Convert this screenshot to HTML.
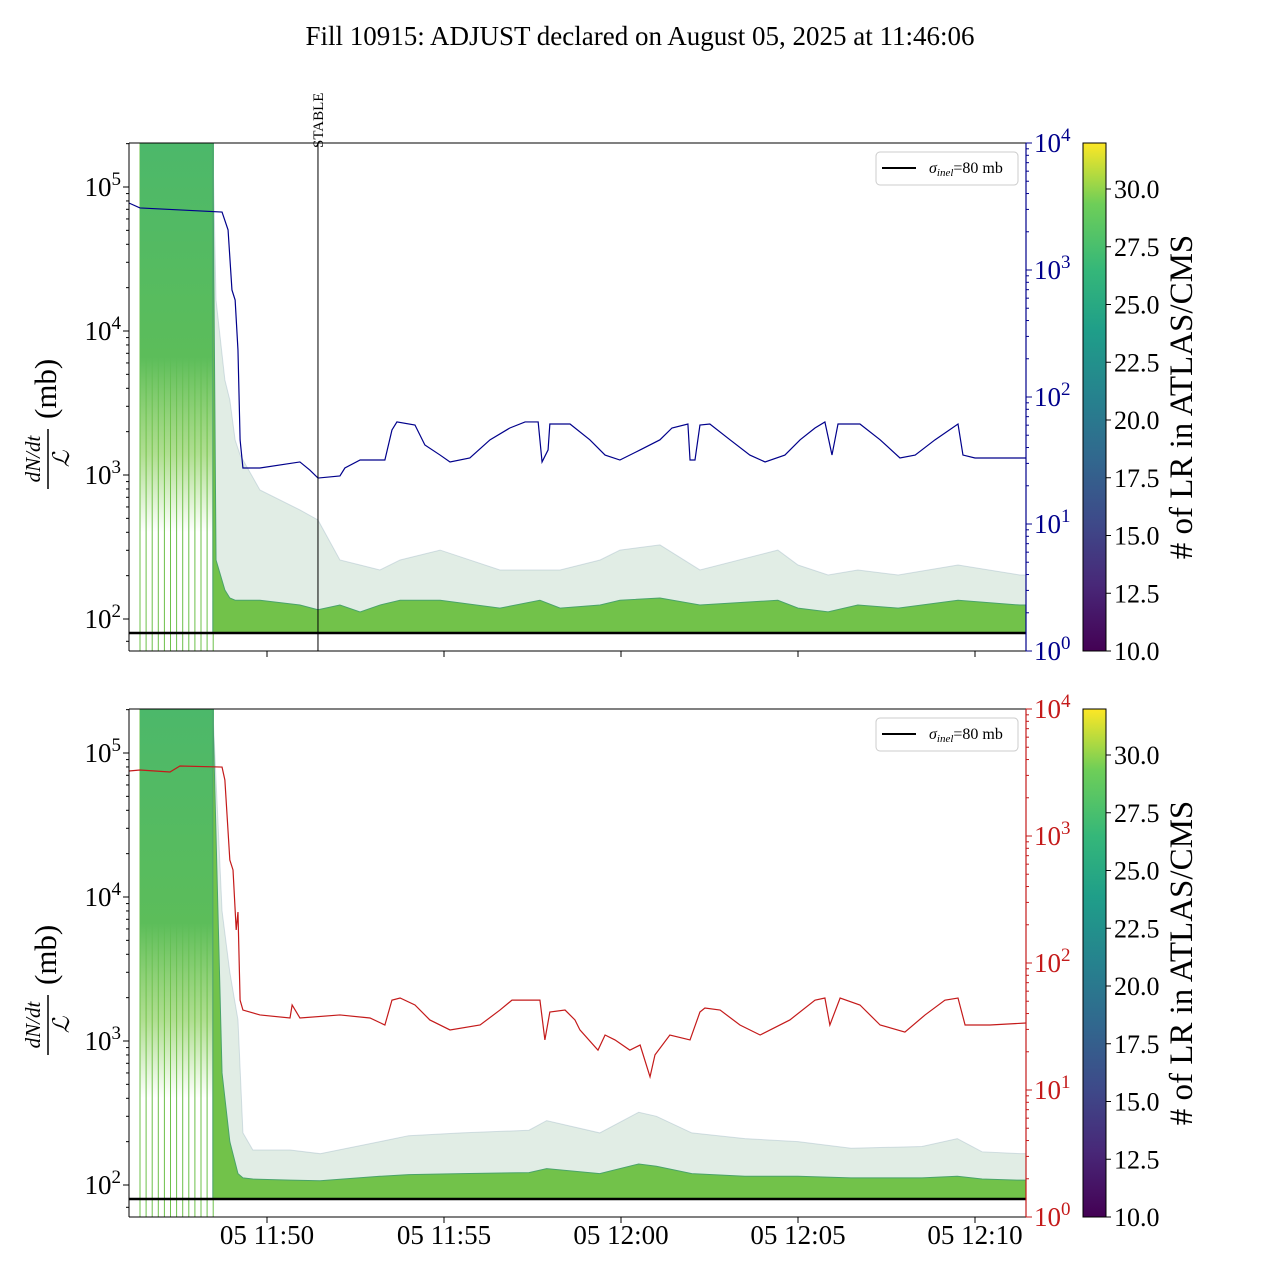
<!DOCTYPE html>
<html><head><meta charset="utf-8">
<style>
html,body{margin:0;padding:0;background:#fff;}
svg{display:block;font-family:"Liberation Serif","DejaVu Serif",serif;}
</style></head>
<body>
<svg id="chart" width="1280" height="1280" viewBox="0 0 1280 1280">
<defs>
<linearGradient id="viridis" x1="0" y1="1" x2="0" y2="0">
<stop offset="0" stop-color="#440154"/><stop offset="0.13" stop-color="#482878"/>
<stop offset="0.25" stop-color="#3e4989"/><stop offset="0.38" stop-color="#31688e"/>
<stop offset="0.5" stop-color="#26828e"/><stop offset="0.63" stop-color="#1f9e89"/>
<stop offset="0.75" stop-color="#35b779"/><stop offset="0.88" stop-color="#6ece58"/>
<stop offset="1" stop-color="#fde725"/>
</linearGradient>
<linearGradient id="greenFade" x1="0" y1="0" x2="0" y2="1">
<stop offset="0" stop-color="#4cb86a"/><stop offset="0.55" stop-color="#5cbd5a"/>
<stop offset="0.8" stop-color="#7cc84a" stop-opacity="0.6"/><stop offset="1" stop-color="#7cc84a" stop-opacity="0"/>
</linearGradient>
</defs>
<text x="640" y="45" font-size="27" text-anchor="middle">Fill 10915: ADJUST declared on August 05, 2025 at 11:46:06</text>
</svg>
<script>
// time in minutes relative to 11:50
const xTickLabels = ["05 11:50","05 11:55","05 12:00","05 12:05","05 12:10"];
const xTickMinutes = [0,5,10,15,20];
const leftTickExps = [2,3,4,5];
const rightTickExps = [0,1,2,3,4];
const cbTicks = [10.0,12.5,15.0,17.5,20.0,22.5,25.0,27.5,30.0];
const sigmaInel = 80;
const stableMinute = 1.44;

const blueT = [-3.9,-3.59,-2.46,-1.27,-1.10,-0.99,-0.90,-0.82,-0.76,-0.68,-0.2,0.93,1.21,1.44,2.06,2.2,2.63,3.33,3.53,3.67,4.18,4.46,4.89,5.17,5.73,6.3,6.86,7.29,7.66,7.77,7.94,7.99,8.56,9.12,9.55,9.97,10.54,11.1,11.44,11.89,11.95,12.09,12.23,12.51,13.08,13.64,14.07,14.63,15.06,15.48,15.76,15.96,16.13,16.75,17.32,17.88,18.31,18.87,19.52,19.66,20,21.44];
const blueV = [3370,3080,2970,2860,2070,696,580,234,46,27.6,27.6,30.8,26.6,23,23.9,27.6,31.9,31.9,55,63.6,60.2,41.9,34.9,30.8,33.1,46,57,63.6,63.6,30.8,38.3,61.3,61.3,46,34.9,31.9,38.3,46,57,61.3,31.9,31.9,60.2,61.3,46,34.9,30.8,34.9,46,57,63.6,34.9,61.3,61.3,46,33.1,34.9,46,61.3,34.9,33.1,33.1];

const redT = [-3.9,-3.59,-2.74,-2.46,-1.27,-1.19,-1.05,-0.96,-0.87,-0.82,-0.76,-0.68,-0.2,0.65,0.71,0.93,2.06,2.91,3.33,3.53,3.76,4.18,4.6,5.17,6.02,6.58,6.92,7.71,7.85,7.99,8.42,8.7,8.84,9.35,9.55,9.83,10.25,10.54,10.82,10.96,11.38,11.95,12.23,12.37,12.8,13.36,13.93,14.77,15.48,15.76,15.9,16.19,16.75,17.32,18.02,18.59,19.15,19.52,19.72,20.42,21.44];
const redV = [3250,3310,3190,3560,3490,2760,647,540,182,252,51,42.6,39,36.9,46.7,36.9,39,36.9,32.5,51,53,46.7,35.6,29.7,32.5,42.6,51,51,24.8,41.1,42.6,35.6,29.7,20.6,27.1,24.8,20.6,22.6,12.7,18.9,27.1,24.8,41.1,44.2,42.6,32.5,27.1,35.6,51,53,32.5,53,46.7,32.5,28.6,39,51,53,32.5,32.5,33.7];

const bundleT1 = [-1.53,-1.44,-1.19,-1.05,-0.90,-0.76,-0.20,0.93,1.44,2.06,2.63,3.19,3.76,4.89,6.58,7.71,8.28,9.41,9.97,11.1,12.23,14.43,15.0,15.85,16.69,17.83,19.52,21.27];
const bundleHi1 = [200000,16400,4570,3320,1750,1380,787,572,487,257,237,219,257,301,219,219,219,257,301,327,219,301,237,202,219,202,237,202];
const bundleMid1 = [200000,257,159,140,135,135,135,125,116,125,112,125,135,135,119,135,119,125,135,140,125,135,119,112,125,119,135,125];

const bundleT2 = [-1.53,-1.27,-1.05,-0.82,-0.68,-0.4,0.65,1.5,3.19,4.0,5.5,7.4,7.9,9.4,10.5,11.0,12.0,13.5,15.0,16.5,18.5,19.5,20.2,21.27];
const bundleHi2 = [200000,8000,3000,1400,230,175,175,165,200,220,230,240,280,230,320,300,230,210,200,180,185,210,170,165];
const bundleMid2 = [200000,600,200,120,112,110,108,107,115,118,120,122,130,120,140,135,120,115,115,112,112,115,110,108];

const NS="http://www.w3.org/2000/svg";
const svg=document.getElementById('chart');
function el(tag,attrs,parent,text){const e=document.createElementNS(NS,tag);for(const k in attrs)e.setAttribute(k,attrs[k]);if(text!==undefined)e.textContent=text;(parent||svg).appendChild(e);return e;}

const X0=129,X1=1026;
function xS(m){return 267+m*35.4;}
function drawPanel(top,lineColor,lineT,lineV,bT,bHi,bMid,showXLabels,showStable,pname){
  const bot=top+508;
  const g=el('g',{},svg);
  
  
  const yL=v=>top+476-(Math.log10(v)-2)*144;
  const yR=v=>bot-Math.log10(v)*127;
  const clipId='clip'+top;
  const cp=el('clipPath',{id:clipId},g);el('rect',{x:X0,y:top,width:X1-X0,height:508},cp);
  const data=el('g',{'clip-path':'url(#'+clipId+')'},g);
  for(let x=140;x<=218;x+=6.1){const l=el('line',{x1:x,y1:top,x2:x,y2:bot,stroke:'#6cc04a','stroke-width':1},data);
    }
  el('rect',{x:140,y:top,width:74,height:yL(400)-top,fill:'url(#greenFade)'},data);
  let p='M'+xS(bT[0])+','+yL(sigmaInel);
  for(let i=0;i<bT.length;i++)p+=' L'+xS(bT[i])+','+yL(bHi[i]);
  p+=' L'+X1+','+yL(bHi[bHi.length-1])+' L'+X1+','+yL(sigmaInel)+'Z';
  const hb=el('path',{d:p,fill:'#9cc4a8','fill-opacity':0.3,stroke:'#9ab4c4','stroke-opacity':0.4,'stroke-width':1},data);
  
  let q='M'+xS(bT[0])+','+yL(sigmaInel);
  for(let i=0;i<bT.length;i++)q+=' L'+xS(bT[i])+','+yL(bMid[i]);
  q+=' L'+X1+','+yL(bMid[bMid.length-1])+' L'+X1+','+yL(sigmaInel)+'Z';
  const mb=el('path',{d:q,fill:'#72c24a',stroke:'#4aa36a','stroke-width':1},data);
  
  const sl=el('line',{x1:X0,x2:X1,y1:yL(sigmaInel),y2:yL(sigmaInel),stroke:'#000','stroke-width':2.5},data);
  
  const pts=lineT.map((t,i)=>xS(t)+','+yR(lineV[i])).join(' ');
  const rl=el('polyline',{points:pts,fill:'none',stroke:lineColor,'stroke-width':1.2},data);
  
  if(showStable){
    const s=el('line',{x1:xS(stableMinute),x2:xS(stableMinute),y1:top,y2:bot,stroke:'#000','stroke-width':1},g);
    
    const st=el('text',{x:0,y:0,'font-size':15,transform:'translate('+(xS(stableMinute)+5)+','+(top+5)+') rotate(-90)'},g,'STABLE');
    
  }
  el('line',{x1:X0,y1:top,x2:X1,y2:top,stroke:'#000'},g);
  el('line',{x1:X0,y1:bot,x2:X1,y2:bot,stroke:'#000'},g);
  el('line',{x1:X0,y1:top,x2:X0,y2:bot,stroke:'#000'},g);
  el('line',{x1:X1,y1:top,x2:X1,y2:bot,stroke:lineColor,'stroke-width':1.2},g);
  leftTickExps.forEach(e=>{const y=yL(Math.pow(10,e));
    el('line',{x1:X0-6,x2:X0,y1:y,y2:y,stroke:'#000'},g);
    const t=el('text',{x:X0-8,y:y+9,'font-size':27,'text-anchor':'end'},g);
    
    el('tspan',{},t,'10');el('tspan',{dy:-11,'font-size':19},t,String(e));
    for(let k=2;k<10;k++){const yy=yL(k*Math.pow(10,e));if(yy>top&&yy<bot)el('line',{x1:X0-3,x2:X0,y1:yy,y2:yy,stroke:'#000'},g);}
  });
  const ym=yL(70);el('line',{x1:X0-3,x2:X0,y1:ym,y2:ym,stroke:'#000'},g);
  rightTickExps.forEach(e=>{const y=yR(Math.pow(10,e));
    el('line',{x1:X1,x2:X1+6,y1:y,y2:y,stroke:lineColor},g);
    const t=el('text',{x:X1+8,y:y+9,'font-size':27,fill:lineColor},g);
    
    el('tspan',{},t,'10');el('tspan',{dy:-11,'font-size':19},t,String(e));
    if(e<4)for(let k=2;k<10;k++){const yy=yR(k*Math.pow(10,e));el('line',{x1:X1,x2:X1+3,y1:yy,y2:yy,stroke:lineColor},g);}
  });
  xTickMinutes.forEach((m,i)=>{const x=xS(m);
    el('line',{x1:x,x2:x,y1:bot,y2:bot+6,stroke:'#000'},g);
    if(showXLabels){const t=el('text',{x:x,y:bot+27,'font-size':27,'text-anchor':'middle'},g,xTickLabels[i]);
      }
  });
  const yl=el('g',{transform:'translate(50,'+(top+254)+') rotate(-90)'},g);
  
  el('text',{x:-62,y:-10,'font-size':21,'font-style':'italic','text-anchor':'middle'},yl,'dN/dt');
  el('line',{x1:-92,x2:-32,y1:-2,y2:-2,stroke:'#000','stroke-width':1.5},yl);
  el('text',{x:-62,y:19,'font-size':23,'font-style':'italic','text-anchor':'middle'},yl,'ℒ');
  el('text',{x:-22,y:6,'font-size':31},yl,'(mb)');
  const lg=el('g',{},g);
  el('rect',{x:876,y:top+9,width:142,height:33,rx:4,fill:'#fff',stroke:'#ccc'},lg);
  el('line',{x1:882,x2:916,y1:top+25,y2:top+25,stroke:'#000','stroke-width':2},lg);
  const lt=el('text',{x:929,y:top+30,'font-size':16},lg);
  el('tspan',{'font-style':'italic'},lt,'σ');el('tspan',{'font-size':11,dy:3,'font-style':'italic'},lt,'inel');el('tspan',{dy:-3},lt,'=80 mb');
  const cb=el('g',{},g);
  el('rect',{x:1083,y:top,width:23,height:508,fill:'url(#viridis)',stroke:'#000'},cb);
  const cy=v=>bot-(v-10)*23.1;
  cbTicks.forEach(v=>{const y=cy(v);el('line',{x1:1106,x2:1111,y1:y,y2:y,stroke:'#000'},cb);
    const t=el('text',{x:1114,y:y+9,'font-size':26},cb,v.toFixed(1));
    });
  const ct=el('text',{x:0,y:0,'font-size':33,'text-anchor':'middle',transform:'translate(1192,'+(top+254)+') rotate(-90)'},cb,'# of LR in ATLAS/CMS');
  
}
drawPanel(143,'#00008b',blueT,blueV,bundleT1,bundleHi1,bundleMid1,false,true,'top-panel');
drawPanel(709,'#c41a1a',redT,redV,bundleT2,bundleHi2,bundleMid2,true,false,'bottom-panel');
</script>
</body></html>
